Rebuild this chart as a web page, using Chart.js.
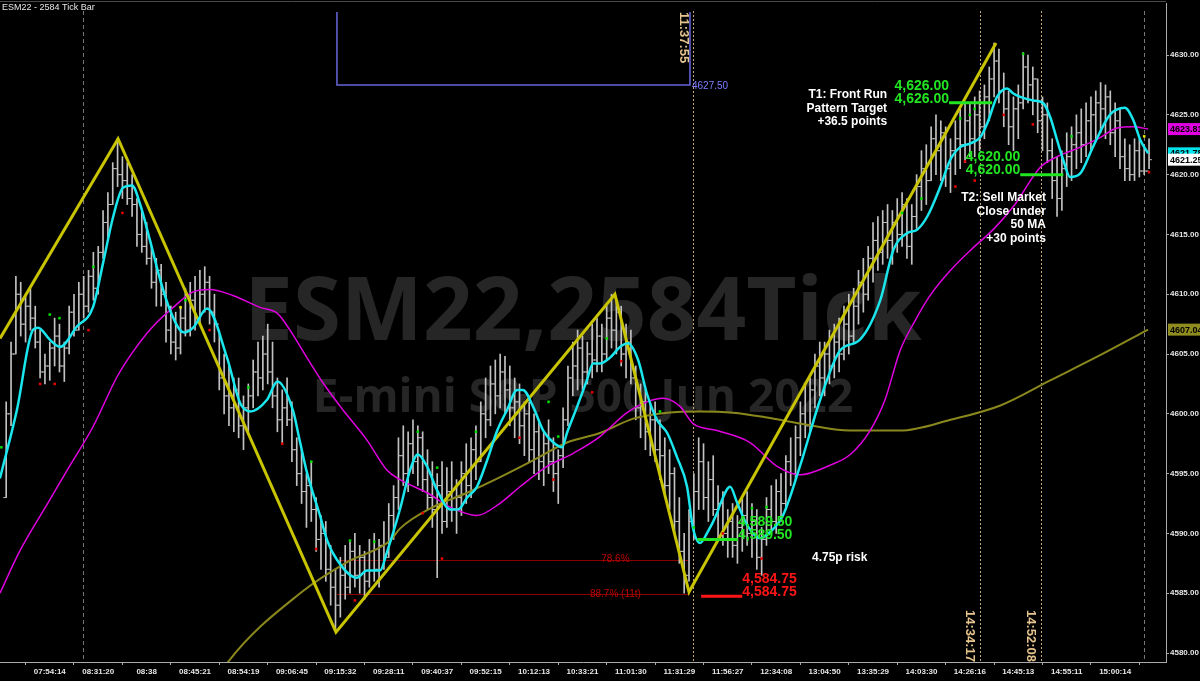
<!DOCTYPE html>
<html>
<head>
<meta charset="utf-8">
<script src="https://cdn.jsdelivr.net/npm/chart.js@4.4.1/dist/chart.umd.min.js"></script>
<style>
  html, body { margin: 0; padding: 0; background: #000; }
  #wrap { width: 1200px; height: 681px; position: relative; background: #000; }
</style>
</head>
<body>
<div id="wrap"><canvas id="chart"></canvas></div>
<script>
// ---- data ----
const timeLabels = ['07:54:14','08:31:20','08:38','08:45:21','08:54:19','09:06:45','09:15:32','09:28:11','09:40:37','09:52:15','10:12:13','10:33:21',
  '11:01:30','11:31:29','11:56:27','12:34:08','13:04:50','13:35:29','14:03:30','14:26:16','14:45:13','14:55:11','15:00:14'];
const tickBars = [9,19,29,39,49,59,69,79,89,99,109,119,129,139,149,159,169,179,189,199,209,219,229];
const priceTicks = [4580,4585,4590,4595,4600,4605,4610,4615,4620,4625,4630];

const highs = [
  4601,4606,4611.5,4611,4610,4610.5,4609,4607,4605,4606,
  4608,4607.5,4606,4609,4610,4611,4611.5,4612,4613.5,4614,
  4617,4618.5,4621,4623,4621.5,4621,4620,4618,4617,4616,
  4614,4613,4612.5,4611,4609,4608.5,4609,4610.5,4611,4611.5,
  4612,4612.3,4611.5,4610,4607,4605,4604,4603,4603,4601.5,
  4602.5,4604.5,4606,4606.5,4607.5,4606,4603,4602,4603,4601,
  4598,4597,4595,4596,4593,4591.5,4591,4589,4587,4588,
  4589,4589.4,4590,4589,4588.5,4589.5,4590,4589.5,4591,4592.5,
  4594,4598,4599,4598.5,4599.5,4599,4598.5,4597,4596,4595,
  4596,4595.5,4596,4594.5,4596,4597.5,4598,4599,4601,4603,
  4604,4604.5,4605,4604.8,4604,4603,4602.5,4601,4601,4600,
  4599.5,4598.5,4599.5,4598,4597,4600.5,4604,4606,4607,4606.5,
  4606,4607.5,4608,4607.5,4609,4610,4609.5,4609,4607.5,4607,
  4604,4602.5,4602,4601,4601,4599.5,4598,4597,4595.5,4593,
  4590,4592,4595,4598,4597.5,4596,4596.5,4594,4593.5,4592,
  4592.5,4591.5,4593,4593.5,4592.5,4592,4590.5,4593,4594,4594.5,
  4595,4596.5,4598,4599,4601,4602.5,4603,4605,4606,4606,
  4607,4607.5,4608,4609,4610,4610.5,4612,4613,4614,4616,
  4616.5,4617,4617.5,4617,4618,4618.5,4618,4617.5,4620,4622,
  4622.5,4624,4625,4624.5,4624,4623,4624.5,4625.5,4626,4626,
  4626.5,4627,4627.5,4629,4631,4630.5,4628.5,4627,4626.5,4627.5,
  4630.2,4630,4629,4628,4626.5,4626,4623,4621.5,4622,4623.5,
  4624,4625,4625.5,4626,4626.5,4627,4627.7,4627.5,4627,4626,
  4625.5,4623,4622.5,4623,4623,4622.5,4623
];
const lows = [
  4593,4599,4605,4606.5,4606,4607,4605.5,4603,4602.5,4602.8,
  4604,4603.5,4602.7,4605,4606.5,4607,4608,4608.5,4609.5,4610,
  4613,4614.5,4617.5,4619,4618,4617.5,4616.5,4614,4613.5,4612.5,
  4610.5,4609,4609,4606,4605,4604.5,4605,4606.5,4606.5,4607,
  4607.5,4608.5,4607.5,4606,4602,4600,4599,4598.5,4598,4597,
  4598.5,4600.5,4601.5,4602,4602.5,4600.5,4598.5,4597.5,4599,4596,
  4594,4592.5,4590.5,4591,4588.5,4587,4586,4584,4581.8,4583,
  4584.5,4585,4585.5,4585,4584.5,4585.5,4586,4585.5,4587,4588,
  4589.5,4592,4594,4593.5,4595,4594,4593.5,4592,4590.5,4586.3,
  4590,4590.5,4591,4590,4591.5,4592.5,4593,4594.5,4596,4598,
  4599,4600,4600.5,4600,4599,4598,4597.5,4596.5,4596,4595,
  4594.5,4594,4595,4593.5,4592.5,4595.5,4599,4601.5,4602,4602,
  4602.5,4603,4603.5,4603.5,4604.5,4605.5,4605,4604,4603,4602.5,
  4599.5,4598,4597,4596.5,4596,4594.5,4593,4592,4590,4587.5,
  4585,4586,4589.5,4592,4592,4591,4591.5,4589.5,4589,4588,
  4588,4587.5,4588.5,4589,4588,4587,4586.5,4589,4590,4590,
  4591,4592,4594,4594.5,4596.5,4598,4598.5,4600.5,4601.5,4601.5,
  4602.5,4603,4603.5,4604.5,4605,4606,4607.5,4608.5,4609.5,4611,
  4612,4612.5,4613,4612.5,4613.5,4614,4613,4612.5,4615.5,4617,
  4617.5,4619.5,4620,4619.5,4619,4618.5,4620,4620.5,4621,4621.5,
  4621.5,4622,4623,4624.5,4626.5,4626,4624,4622.5,4622,4623,
  4625.5,4626,4625,4623.5,4622,4621,4618,4616.5,4617,4619,
  4619.5,4620.5,4621,4621.5,4622,4623,4623.5,4623,4622.5,4621.5,
  4620.5,4619.5,4619.5,4619.5,4619.8,4620,4620.5
];
const closes = [
  4600,4605,4610,4607.5,4609,4608,4606,4603.5,4604,4605.5,
  4606.5,4604,4605.5,4608.5,4607,4610,4609,4611.5,4610.5,4613.5,
  4616,4617.5,4620.5,4620,4619.5,4618,4617.5,4615,4614,4613,
  4611,4612,4610,4607,4606,4605.5,4608,4607,4609.5,4608,
  4610,4611,4608.5,4607.5,4603,4601.5,4600.5,4602,4599,4600.5,
  4601.5,4603.5,4603,4605,4603.5,4601.5,4599.5,4600.5,4599.5,4597,
  4595,4593.5,4594,4592,4589.5,4590,4587,4585.5,4584,4586.5,
  4585.5,4588.5,4586.5,4588,4586,4588.5,4587,4589,4588,4591.5,
  4593,4596.5,4595,4597.5,4596,4598,4594.5,4593,4592,4594,
  4591,4593.5,4592,4593,4595,4594,4597,4596,4600,4599.5,
  4602.5,4601.5,4603.5,4602,4600.5,4601,4599,4600,4597,4598.5,
  4596,4597.5,4596,4595,4596.5,4599.5,4603,4604,4605.5,4603.5,
  4605,4604.5,4606.5,4605,4608,4607,4608.5,4605,4606,4603,
  4600.5,4601,4598.5,4599.5,4597,4596.5,4594,4595,4591,4588.5,
  4586.5,4591,4593.5,4596,4593,4594.5,4592,4592.5,4590,4591,
  4589,4590.5,4591.5,4590,4591,4588,4589.5,4592,4591,4593.5,
  4592.5,4596,4595,4598,4600,4599,4602,4604,4603,4605,
  4604,4606,4605,4607.5,4606.5,4609,4611,4610,4613,4614.5,
  4613.5,4616,4614.5,4616,4615,4617.5,4614,4616.5,4619,4620.5,
  4619.5,4623,4622,4623.5,4620.5,4622,4623,4622.5,4624.5,4623,
  4625,4624,4626.5,4628,4629.5,4627,4625.5,4624,4625.5,4626,
  4629,4627.5,4628,4624.5,4625,4622,4619.5,4618,4620.5,4621.5,
  4622.5,4623.5,4622.5,4624.5,4625,4626,4625.5,4626.5,4623.5,4624.5,
  4621.5,4620.5,4620,4622,4620.3,4620.3,4621.25
];

// fast average (cyan), read as bar position / price pairs
const cyanBars = [-1.3,2.2,5.5,6.6,9,11.1,14.6,17.9,20,22.1,24.1,26,27.6,29.7,31.8,33.8,35.9,36.9,38.6,41.5,45.6,48.3,50.4,53.9,56,59.2,60.7,62.1,64.8,66.3,68.3,72.4,74.5,77.2,78.6,81.3,83.4,85,86.9,89,91.7,93.3,95.2,97.2,99.3,101.4,103.4,105.5,106.7,108.8,110.9,113,114.8,115.8,117.9,119.9,121.2,122.6,124.7,126.8,128.4,130.5,132.3,134.4,136.5,138.5,140.6,141.8,143.3,144.7,146.8,147.4,149.5,150.9,153,155.7,157.7,160.4,163.9,168.1,172.2,176.3,180.5,183.2,186,188.1,190.2,192.9,194.9,197,199,201.1,202.6,204.6,206.7,207.9,209.4,212.1,214.1,215.6,217,218.3,219.7,221.8,224.4,227.9,231,232.7,234.2,235.8];
const cyanVals = [4594.6,4600.3,4607,4607.2,4606.2,4605.6,4607.3,4608.9,4612.6,4616.5,4618.9,4619.1,4617.6,4614.5,4611.2,4608.7,4607,4606.8,4607.2,4608.8,4604.7,4600.9,4600.2,4601.2,4602.7,4600.3,4597.6,4595.1,4591.5,4589.4,4587.8,4586.3,4586.9,4586.9,4588.4,4592,4595.3,4596.6,4595.6,4593.6,4592,4592,4593,4593.9,4596.1,4598.6,4600.3,4602,4602,4600.6,4598.6,4597.6,4597.2,4598.4,4600.6,4602.8,4604.2,4604.2,4604.7,4605.6,4605.9,4604.5,4601.7,4599.5,4598.4,4596.4,4593.9,4590.5,4589.2,4590,4591.7,4592.4,4593.9,4592.6,4590.7,4589.6,4590.1,4591.5,4595.6,4601.2,4605.3,4606.2,4609.5,4613.7,4615.1,4615.4,4616.5,4619,4621.2,4622.3,4622.6,4623.1,4624.3,4626.5,4627.2,4626.8,4626.5,4626.2,4626,4624.8,4622.9,4621.2,4619.8,4620.1,4622.3,4625,4625.6,4624.6,4622.9,4621.78];

// 50 MA (magenta)
const maBars = [-1.3,2.9,9,12.6,17.9,22.9,26.2,30.3,34.5,38.6,42.1,46.8,52.4,56,58.6,62.1,65.4,69.6,74.5,78.6,81.3,86.9,91.7,97.2,101.9,106.1,111.7,117.1,122.6,128.2,132.3,135.6,139.2,141.8,146.8,153.6,159.2,163.9,170.1,174.3,178.4,181.5,184.6,187.7,190.8,195,199.7,203.8,208.3,213.5,217,221.8,225.9,229.4,232.7,235.8];
const maVals = [4585,4588.6,4592.8,4595.3,4598.9,4603.1,4605.2,4607.3,4608.9,4610.2,4610.4,4609.9,4608.9,4608.4,4607,4604.7,4602.6,4600.3,4597.8,4595.3,4594.5,4593.4,4592.2,4591.5,4592.5,4593.9,4595.6,4596.7,4598.1,4600.1,4601,4601.3,4600.6,4599.2,4598.6,4597.6,4595.6,4594.9,4595.7,4596.6,4598.6,4601.2,4605.3,4607.8,4609.9,4612,4613.9,4615.4,4617.5,4620.6,4621.5,4622.3,4623.1,4623.9,4624,4623.81];

// slow MA (olive)
const slowBars = [38,45.8,60.7,70.4,79.3,81.3,88.1,95.2,102,108.8,115.8,122.6,129.5,136.5,143.3,150.1,157.1,163.9,174.3,184.6,195,205.3,215.6,225.9,235.8];
const slowVals = [4574,4579.25,4585,4587.6,4589.4,4590.4,4592.2,4593.4,4594.7,4596.1,4597.6,4598.4,4599.6,4600.1,4600.2,4600.1,4599.7,4599.2,4598.6,4598.6,4599.5,4600.7,4602.8,4604.9,4607.04];

// swing zigzag (yellow)
const swingBars = [-1.28,23.1,68.1,125.7,141,204.4];
const swingVals = [4606.3,4623,4581.75,4610,4585.1,4631];

// signal dots
const greenBars = [-1,9,11,18,37,50,63,71,76,85,89,97,112,114,124,135,142,154,157,185,189,197,199,200,210,220];
const greenVals = [4597.2,4608.3,4608,4612.3,4609.5,4602.2,4596,4589.4,4589.3,4598.5,4595.5,4598.5,4601,4598.1,4606.3,4600.2,4590.5,4592.1,4592.2,4616.8,4618,4624.7,4625,4625.5,4630.1,4623.2];
const redBars = [7,10,17,24,42,57,64,72,86,90,106,113,121,127,148,156,196,198,200,206,212,236];
const redVals = [4602.5,4602.5,4607,4616.8,4607,4597.5,4588.7,4584.4,4591.7,4587.9,4598,4594.5,4601.8,4604.4,4590,4587.9,4619,4621.1,4619.5,4625,4624.2,4620.2];
const yellowBars = [36,235];
const yellowVals = [4608.9,4623.2];

// annotations
const sessionLines = [15.9, 141.8, 201, 213.6, 234.9];
const sessionKinds = ['gray','tan','tan','tan','gray'];
const timeStamps = ['11:37:55','14:34:17','14:52:08'];
const timeStampLines = [141.8, 201, 213.6];
const fibLevels = [4587.8, 4584.94];
const fibNames = ['78.6%', '88.7% (11t)'];
const fibRange = [68.3, 141.2];
const fibLabelBar = 125.8;
const targetPrices = [4626, 4620, 4589.5, 4584.75];
const targetStarts = [194.7, 209.4, 142.7, 143.5];
const targetEnds = [203.6, 218.3, 151.1, 152.0];
const lastValues = [4623.81, 4621.78, 4621.25, 4607.04];

const xMin = -1.28, xMax = 239.5, yMin = 4579.25, yMax = 4634.35;

const opens = closes.map((c, i) => i > 0 ? closes[i - 1] : lows[0]);
const pts = (xs, ys) => xs.map((x, i) => ({ x: x, y: ys[i] }));

const overlay = {
  id: 'overlay',
  beforeDatasetsDraw(chart) {
    const { ctx, chartArea: a, scales: { x, y } } = chart;
    ctx.save();
    // watermark
    ctx.fillStyle = '#262626';
    ctx.textAlign = 'center';
    ctx.textBaseline = 'alphabetic';
    const cx = (a.left + a.right) / 2;
    ctx.font = 'bold 87px "Open Sans"';
    ctx.fillText('ESM22,2584Tick', cx, 340);
    ctx.font = 'bold 46px "Open Sans"';
    ctx.fillText('E-mini S&P 500 Jun 2022', cx, 412);
    // session / time lines
    sessionLines.forEach((b, i) => {
      const px = Math.round(x.getPixelForValue(b)) + 0.5;
      ctx.strokeStyle = sessionKinds[i] === 'gray' ? '#777' : '#c9a877';
      ctx.setLineDash(sessionKinds[i] === 'gray' ? [4, 3] : [2, 2]);
      ctx.lineWidth = 1;
      ctx.beginPath();
      ctx.moveTo(px, a.top + 8);
      ctx.lineTo(px, a.bottom);
      ctx.stroke();
    });
    ctx.setLineDash([]);
    // fib lines
    ctx.strokeStyle = '#8a0000';
    fibLevels.forEach((lv) => {
      const py = Math.round(y.getPixelForValue(lv)) + 0.5;
      ctx.beginPath();
      ctx.moveTo(x.getPixelForValue(fibRange[0]), py);
      ctx.lineTo(x.getPixelForValue(fibRange[1]), py);
      ctx.stroke();
    });
    ctx.restore();
  },
  afterDatasetsDraw(chart) {
    const { ctx, chartArea: a, scales: { x, y } } = chart;
    ctx.save();
    // top frame + title
    ctx.strokeStyle = '#4a4a4a';
    ctx.beginPath(); ctx.moveTo(0, 1.5); ctx.lineTo(a.right, 1.5); ctx.stroke();
    ctx.fillStyle = '#e6e6e6';
    ctx.font = '9px Arial';
    ctx.textAlign = 'left';
    ctx.textBaseline = 'middle';
    ctx.fillText('ESM22 - 2584 Tick Bar', 2, 8);

    // blue bracket at 4627.50
    const bx1 = x.getPixelForValue(fibRange[0]), bx2 = x.getPixelForValue(fibRange[1]);
    const by = y.getPixelForValue(4627.5), byTop = y.getPixelForValue(4633.6);
    ctx.strokeStyle = '#6666dd';
    ctx.lineWidth = 1.5;
    ctx.beginPath();
    ctx.moveTo(bx1, byTop); ctx.lineTo(bx1, by); ctx.lineTo(bx2, by); ctx.lineTo(bx2, byTop);
    ctx.stroke();
    ctx.fillStyle = '#7b7bff';
    ctx.font = '10px Arial';
    ctx.fillText('4627.50', bx2 + 2, by + 1);

    // fib labels
    ctx.fillStyle = '#c00000';
    ctx.textAlign = 'center';
    fibLevels.forEach((lv, i) => {
      ctx.fillText(fibNames[i], x.getPixelForValue(fibLabelBar), y.getPixelForValue(lv));
    });

    // target / stop levels
    targetPrices.forEach((p, i) => {
      const red = i === 3;
      const col = red ? '#ff1515' : '#22e622';
      const py = y.getPixelForValue(p);
      const x1 = x.getPixelForValue(targetStarts[i]), x2 = x.getPixelForValue(targetEnds[i]);
      ctx.strokeStyle = col;
      ctx.lineWidth = 3;
      ctx.beginPath(); ctx.moveTo(x1, py); ctx.lineTo(x2, py); ctx.stroke();
      const txt = p.toLocaleString('en-US', { minimumFractionDigits: 2 });
      ctx.fillStyle = col;
      ctx.font = 'bold 14px Arial';
      ctx.textBaseline = 'middle';
      if (i < 2) { ctx.textAlign = 'right'; ctx.fillText(txt, x1, py - 17); ctx.fillText(txt, x1, py - 4); }
      else { ctx.textAlign = 'left'; ctx.fillText(txt, x2, py - 17); ctx.fillText(txt, x2, py - 4); }
    });

    // notes
    ctx.fillStyle = '#ffffff';
    ctx.font = 'bold 12px Arial';
    ctx.textAlign = 'right';
    const t1x = x.getPixelForValue(181.9), t1y = y.getPixelForValue(4626.66);
    ['T1: Front Run', 'Pattern Target', '+36.5 points'].forEach((s, k) => ctx.fillText(s, t1x, t1y + k * 13.5));
    const t2x = x.getPixelForValue(214.7), t2y = y.getPixelForValue(4618.04);
    ['T2: Sell Market', 'Close under', '50 MA', '+30 points'].forEach((s, k) => ctx.fillText(s, t2x, t2y + k * 13.4));
    ctx.textAlign = 'left';
    ctx.fillText('4.75p risk', x.getPixelForValue(166.4), y.getPixelForValue(4587.94));

    // rotated time stamps
    ctx.fillStyle = '#e6c48e';
    ctx.font = 'bold 13px Arial';
    ctx.textBaseline = 'alphabetic';
    timeStamps.forEach((s, i) => {
      const px = x.getPixelForValue(timeStampLines[i]);
      ctx.save();
      if (i === 0) { ctx.translate(px - 13, a.top + 9); ctx.rotate(Math.PI / 2); ctx.textAlign = 'left'; }
      else { ctx.translate(px - 14, a.bottom); ctx.rotate(Math.PI / 2); ctx.textAlign = 'right'; }
      ctx.fillText(s, 0, 0);
      ctx.restore();
    });
    ctx.restore();
  },
  afterDraw(chart) {
    const { ctx, chartArea: a, scales: { y } } = chart;
    const fills = ['#e100e1', '#00e6ee', '#ffffff', '#8f8d1f'];
    ctx.save();
    ctx.font = 'bold 9px Arial';
    ctx.textBaseline = 'middle';
    ctx.textAlign = 'left';
    lastValues.forEach((v, i) => {
      const py = y.getPixelForValue(v);
      ctx.fillStyle = fills[i];
      ctx.fillRect(a.right + 2, py - 6, 34, 12);
      ctx.fillStyle = '#000';
      ctx.fillText(v.toFixed(2), a.right + 4, py + 0.5);
    });
    ctx.restore();
  }
};

const barColor = '#c2c2c2';
new Chart(document.getElementById('chart'), {
  type: 'line',
  data: {
    datasets: [
      { type: 'bar', data: highs.map((h, i) => ({ x: i, y: [lows[i], h] })), backgroundColor: barColor, barThickness: 1, order: 10 },
      { type: 'scatter', data: pts(opens.map((o, i) => i - 0.32), opens), pointStyle: 'line', pointRadius: 1.3, borderColor: barColor, borderWidth: 1, order: 9 },
      { type: 'scatter', data: pts(closes.map((c, i) => i + 0.32), closes), pointStyle: 'line', pointRadius: 1.3, borderColor: barColor, borderWidth: 1, order: 9 },
      { data: pts(slowBars, slowVals), borderColor: '#8a881c', borderWidth: 2, pointRadius: 0, cubicInterpolationMode: 'monotone', order: 7 },
      { data: pts(maBars, maVals), borderColor: '#e000e0', borderWidth: 1.5, pointRadius: 0, cubicInterpolationMode: 'monotone', order: 6 },
      { data: pts(swingBars, swingVals), borderColor: '#c8c400', borderWidth: 3, pointRadius: 0, tension: 0, order: 5 },
      { data: pts(cyanBars, cyanVals), borderColor: '#1ae6ee', borderWidth: 2.5, pointRadius: 0, cubicInterpolationMode: 'monotone', order: 4 },
      { type: 'scatter', data: pts(greenBars, greenVals), pointStyle: 'rect', pointRadius: 1.8, backgroundColor: '#00e000', borderWidth: 0, order: 1 },
      { type: 'scatter', data: pts(redBars, redVals), pointStyle: 'rect', pointRadius: 1.8, backgroundColor: '#e80000', borderWidth: 0, order: 1 },
      { type: 'scatter', data: pts(yellowBars, yellowVals), pointStyle: 'rect', pointRadius: 1.8, backgroundColor: '#e6e600', borderWidth: 0, order: 1 }
    ]
  },
  options: {
    responsive: true,
    maintainAspectRatio: false,
    animation: false,
    layout: { autoPadding: false, padding: { top: 3, left: 0, right: 0, bottom: 0 } },
    plugins: { legend: { display: false }, tooltip: { enabled: false } },
    scales: {
      x: {
        type: 'linear', min: xMin, max: xMax, offset: false,
        afterBuildTicks: (s) => { s.ticks = tickBars.map(v => ({ value: v })); },
        afterFit: (s) => { s.height = 19; s.paddingLeft = 0; s.paddingRight = 0; },
        ticks: {
          autoSkip: false, maxRotation: 0, padding: 2, color: '#e6e6e6',
          font: { family: 'Arial', size: 8, weight: 'bold' },
          callback: (v) => timeLabels[tickBars.indexOf(v)] || ''
        },
        grid: { drawOnChartArea: false, drawTicks: true, tickLength: 3, color: '#aaaaaa' },
        border: { color: '#aaaaaa' }
      },
      y: {
        position: 'right', min: yMin, max: yMax,
        afterBuildTicks: (s) => { s.ticks = priceTicks.map(v => ({ value: v })); },
        afterFit: (s) => { s.width = 34; s.paddingTop = 0; s.paddingBottom = 0; },
        ticks: {
          padding: 1, color: '#e6e6e6',
          font: { family: 'Arial', size: 8, weight: 'bold' },
          callback: (v) => Number(v).toFixed(2)
        },
        grid: { drawOnChartArea: false, drawTicks: true, tickLength: 3, color: '#aaaaaa' },
        border: { color: '#aaaaaa' }
      }
    }
  },
  plugins: [overlay]
});
</script>
</body>
</html>
